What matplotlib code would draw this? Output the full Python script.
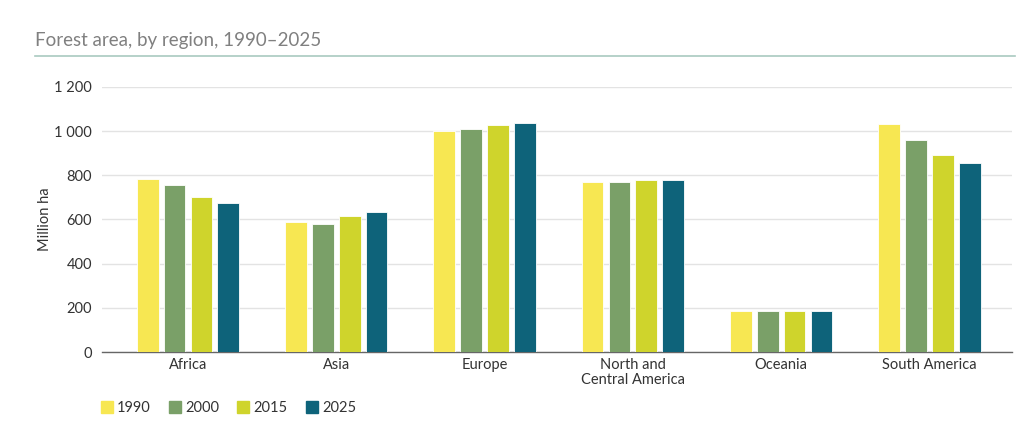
import numpy as np
import matplotlib
matplotlib.use("Agg")
import matplotlib.pyplot as plt
from matplotlib.lines import Line2D

regions = ["Africa", "Asia", "Europe", "North and\nCentral America", "Oceania", "South America"]
years = ["1990", "2000", "2015", "2025"]

# million ha
v1990 = [783, 588, 1000, 770, 185, 1032]
v2000 = [755, 578, 1008, 770, 185, 959]
v2015 = [700, 614, 1026, 779, 185, 894]
v2025 = [673, 633, 1036, 779, 185, 857]

colors = ["#f7e752", "#7aa068", "#cfd42c", "#0e637a"]

plt.rcParams["font.family"] = ["Lato", "DejaVu Sans"]

fig = plt.figure(figsize=(10.3, 4.37), dpi=100)
ax = fig.add_axes([0.099, 0.1945, 0.884, 0.6065])

x = np.arange(len(regions))
pitch = 0.181
width = 0.146
for i, vals in enumerate([v1990, v2000, v2015, v2025]):
    ax.bar(x + (i - 1.5) * pitch, vals, width, color=colors[i],
           edgecolor="white", linewidth=0.6, zorder=3, label=years[i])

ax.set_ylim(0, 1200)
ax.set_xlim(-0.58, 5.56)
ax.set_yticks(range(0, 1201, 200))
ax.set_yticklabels(["0", "200", "400", "600", "800", "1 000", "1 200"])
ax.set_xticks(x)
ax.set_xticklabels(regions, linespacing=1.15)
ax.tick_params(axis="both", length=0, labelsize=10.5, colors="#333333")
ax.tick_params(axis="y", pad=7)
ax.tick_params(axis="x", pad=4)
ax.yaxis.grid(True, color="#e3e3e3", linewidth=1, zorder=0)
for s in ["top", "right", "left"]:
    ax.spines[s].set_visible(False)
ax.spines["bottom"].set_color("#666666")
ax.spines["bottom"].set_linewidth(1)
ax.set_ylabel("Million ha", fontsize=10.5, color="#333333", labelpad=2)

fig.text(0.034, 0.907, "Forest area, by region, 1990\u20132025", fontsize=13.5,
         color="#808080", va="center")
fig.add_artist(Line2D([0.034, 0.985], [0.872, 0.872], color="#a9c9c0",
                      linewidth=1.2, transform=fig.transFigure))

handles = [Line2D([], [], marker="s", linestyle="none", markersize=8,
                  markerfacecolor=c, markeredgecolor=c) for c in colors]
fig.legend(handles, years, loc="center left", bbox_to_anchor=(0.084, 0.066),
           ncol=4, frameon=False, fontsize=10.5, handletextpad=0.2,
           columnspacing=1.15, handlelength=1.0, labelcolor="#333333")

fig.savefig("out.png", dpi=100)
